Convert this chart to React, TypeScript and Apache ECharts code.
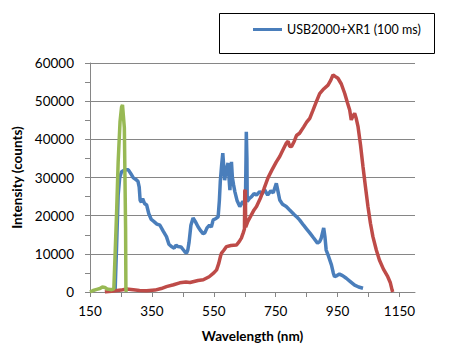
import React, { useEffect, useRef } from "react";
import * as echarts from "echarts";

const legendName = "USB2000+XR1 (100 ms)";
const xTickValues = [150, 250, 350, 450, 550, 650, 750, 850, 950, 1050, 1150];
const xLabelValues = [150, 350, 550, 750, 950, 1150];

const blueData: [number, number][] = [
  [231, 0], [236, 12300], [241, 25400], [246, 30000], [252, 31500], [262, 32000], [274, 32000], [282, 31000],
  [290, 29900], [298, 29500], [305, 29000], [309, 27500], [312, 24000],
  [316, 23500], [320, 24500], [326, 23200], [333, 22800], [340, 20500], [348, 19000], [356, 18500], [366, 17800],
  [376, 17500], [386, 16000], [397, 14500], [405, 12500], [413, 11900], [422, 11500], [428, 12300], [434, 11900],
  [444, 11800], [452, 11000], [458, 10400], [462, 10200], [466, 11000], [470, 13000], [476, 17500], [483, 19400],
  [490, 18500], [499, 17100], [508, 16000], [515, 15300], [521, 15500], [528, 16800], [536, 17500], [542, 17000],
  [548, 18900], [556, 19200], [564, 19700], [568, 24000], [571, 29000], [575, 33000], [579, 36400], [582, 33000],
  [585, 29300], [588, 31000], [592, 32500], [596, 33800], [599, 30000], [602, 26700], [605, 31000], [607, 34100],
  [610, 30000], [614, 28000], [618, 26300], [625, 24000], [634, 22400], [644, 23700], [652, 22800], [654, 35000],
  [655, 42000], [657, 35000], [658, 23700], [665, 24500], [672, 25000], [680, 25800], [688, 25400], [698, 26300],
  [706, 25700], [714, 26800], [724, 25400], [734, 26500], [742, 26000], [752, 28500], [757, 26500], [763, 24100],
  [772, 23000], [784, 22400], [795, 21500], [811, 20200], [820, 19500], [827, 18900], [840, 17500], [850, 16500],
  [860, 15500], [872, 14200], [885, 12800], [892, 13200], [897, 14100], [905, 16800], [909, 14500], [913, 11000],
  [920, 9500], [930, 7100], [936, 5000], [940, 4000], [948, 4300], [956, 4700], [966, 4300], [978, 3600],
  [990, 2800], [1005, 1800], [1018, 1300], [1032, 1000],
];

const redData: [number, number][] = [
  [198, 0], [220, 200], [250, 500], [268, 800], [290, 600], [310, 400], [333, 300], [360, 500], [380, 900],
  [397, 1400], [420, 1900], [440, 2400], [460, 2600], [473, 2500], [499, 3000], [516, 3200], [535, 4000],
  [550, 5000], [559, 5800], [566, 7500], [572, 9500], [575, 10200], [583, 11000], [591, 11900], [605, 12200],
  [623, 12300], [632, 13200], [639, 14100], [645, 15500], [649, 16500], [650, 26500], [652, 26700], [653, 17000],
  [660, 18500], [670, 20000], [680, 21500], [688, 22400], [700, 24500], [712, 27000], [725, 29900], [738, 32000],
  [752, 34100], [763, 35500], [772, 37000], [784, 39000], [790, 39500], [795, 38200], [801, 38100], [810, 39500],
  [817, 41000], [827, 41600], [840, 43200], [850, 44500], [860, 45500], [870, 47500], [882, 50000], [892, 52000],
  [905, 53200], [919, 54200], [928, 55500], [935, 56900], [942, 56500], [951, 56000], [962, 54500], [973, 52000],
  [982, 49500], [989, 47700], [994, 45100], [999, 46000], [1005, 46800], [1010, 45500], [1016, 43300], [1024, 38500],
  [1032, 32800], [1040, 27500], [1048, 22400], [1056, 18000], [1064, 14500], [1075, 11000], [1085, 8400],
  [1098, 6000], [1112, 4000], [1120, 2500], [1126, 500], [1128, 0],
];

const greenData: [number, number][] = [
  [150, 0], [160, 400], [172, 700], [182, 900], [190, 1300], [198, 1200], [205, 800], [212, 700], [220, 600],
  [227, 800], [231, 9700], [236, 21000], [241, 34100], [247, 44600], [252, 48500], [255, 49000], [258, 46000],
  [261, 43000], [263, 29900], [265, 16800], [266, 1000], [267, 0],
];

const FONT = "Lato, 'Open Sans', sans-serif";
const GRAY = "#868686";

export default function App() {
  const ref = useRef<HTMLDivElement>(null);
  useEffect(() => {
    if (!ref.current) return;
    const chart = echarts.init(ref.current, null, { renderer: "svg" });
    chart.setOption({
      animation: false,
      backgroundColor: "#ffffff",
      textStyle: { fontFamily: FONT },
      grid: { left: 90, right: 36, top: 63, bottom: 64, containLabel: false },
      graphic: [
        {
          type: "rect",
          shape: { x: 219.5, y: 13.5, width: 215, height: 40 },
          style: { fill: "none", stroke: "#000000", lineWidth: 1 },
          z: 0,
        },
      ],
      legend: {
        data: [legendName],
        left: 248,
        top: 18,
        icon: "rect",
        itemWidth: 29,
        itemHeight: 3,
        textStyle: { fontSize: 12.5, color: "#000", fontFamily: FONT },
      },
      xAxis: {
        type: "value",
        min: 150,
        max: 1200,
        name: "Wavelength (nm)",
        nameLocation: "middle",
        nameGap: 37,
        nameTextStyle: { fontSize: 13.5, fontWeight: "bold", color: "#000", fontFamily: FONT },
        axisLine: { lineStyle: { color: GRAY } },
        axisTick: { show: true, length: 5, lineStyle: { color: GRAY }, customValues: xTickValues },
        axisLabel: {
          fontSize: 13.5,
          color: "#000",
          margin: 12,
          customValues: xLabelValues,
          fontFamily: FONT,
          formatter: (v: number) => String(v),
        },
        splitLine: { show: false },
      },
      yAxis: {
        type: "value",
        min: 0,
        max: 60000,
        interval: 10000,
        name: "Intensity (counts)",
        nameLocation: "middle",
        nameGap: 58,
        nameTextStyle: { fontSize: 13.5, fontWeight: "bold", color: "#000", fontFamily: FONT },
        axisLine: { show: true, lineStyle: { color: GRAY } },
        axisTick: { show: true, length: 5, lineStyle: { color: GRAY } },
        minorTick: { show: true, splitNumber: 2, length: 5, lineStyle: { color: GRAY } },
        axisLabel: {
          fontSize: 13.5,
          color: "#000",
          margin: 16,
          fontFamily: FONT,
          formatter: (v: number) => String(v),
        },
        splitLine: { show: true, lineStyle: { color: GRAY, width: 1 } },
      },
      series: [
        {
          name: legendName,
          type: "line",
          data: blueData,
          showSymbol: false,
          color: "#4A7EBB",
          lineStyle: { width: 3.5, color: "#4A7EBB" },
        },
        {
          name: "red",
          type: "line",
          data: redData,
          showSymbol: false,
          color: "#BE4B48",
          lineStyle: { width: 3.5, color: "#BE4B48" },
        },
        {
          name: "green",
          type: "line",
          data: greenData,
          showSymbol: false,
          color: "#98B954",
          lineStyle: { width: 3.5, color: "#98B954" },
        },
      ],
    });
    return () => chart.dispose();
  }, []);
  return <div ref={ref} style={{ width: 451, height: 356, margin: -8 }} />;
}
